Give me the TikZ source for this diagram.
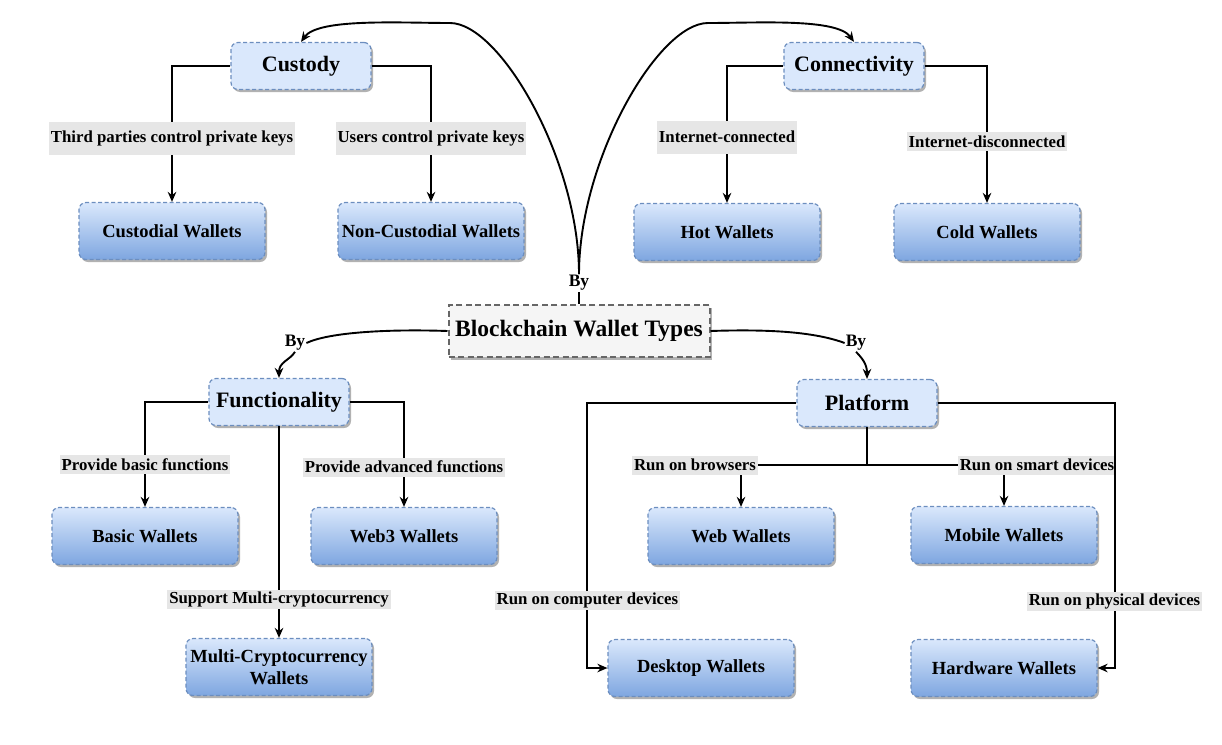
\documentclass[tikz,border=0pt]{standalone}
\usepackage{fontspec}
\setmainfont{Liberation Serif}
\usetikzlibrary{arrows.meta,shadows}
\definecolor{catfill}{HTML}{DAE8FC}
\definecolor{leafbot}{HTML}{7EA6E0}
\definecolor{bluedraw}{HTML}{6C8EBF}
\definecolor{rootfill}{HTML}{F5F5F5}
\definecolor{rootdraw}{HTML}{666666}
\definecolor{lblfill}{HTML}{E6E6E6}
\begin{document}
\begin{tikzpicture}[x=1pt,y=-1pt,
  shd/.style={drop shadow={shadow xshift=2pt,shadow yshift=-2.5pt,opacity=0.3,fill=black}},
  catbox/.style={shd,draw=bluedraw,fill=catfill,line width=1.2pt,dash pattern=on 4pt off 2.5pt,
    rounded corners=7pt,minimum width=140pt,minimum height=47pt,inner sep=2pt,
    font=\fontsize{22}{24}\selectfont\bfseries},
  leaf/.style={shd,draw=bluedraw,top color=catfill,bottom color=leafbot,line width=1.2pt,
    dash pattern=on 4pt off 2.5pt,rounded corners=7pt,minimum width=186pt,minimum height=57pt,
    inner sep=1pt,align=center,font=\fontsize{18.5}{21.5}\selectfont\bfseries},
  rootbox/.style={shd,draw=rootdraw,fill=rootfill,line width=2pt,dash pattern=on 6pt off 3.5pt,
    minimum width=261pt,minimum height=52pt,inner sep=2pt,font=\fontsize{23.5}{26}\selectfont\bfseries},
  lbl/.style={fill=lblfill,inner sep=2pt,minimum height=19pt,font=\fontsize{16.8}{18}\selectfont\bfseries},
  lbltall/.style={lbl,minimum height=33pt},
  bylbl/.style={inner sep=1pt,font=\fontsize{17.5}{19}\selectfont\bfseries},
  edge/.style={line width=1.9pt,black},
  arr/.style={edge,-{Stealth[length=10pt,width=8.5pt]}}
]
\useasboundingbox (0,0) rectangle (1222,744);

% nodes
\node[rootbox] (root) at (579,331) {Blockchain Wallet Types};
\node[catbox] (custody) at (301,66) {Custody};
\node[catbox] (conn) at (854,66) {Connectivity};
\node[catbox] (func) at (279,402) {Functionality};
\node[catbox] (plat) at (867,403) {Platform};

\node[leaf] (cw) at (172,231) {Custodial Wallets};
\node[leaf] (ncw) at (431,231) {Non-Custodial Wallets};
\node[leaf] (hot) at (727,232) {Hot Wallets};
\node[leaf] (cold) at (987,232) {Cold Wallets};
\node[leaf] (basic) at (145,536) {Basic Wallets};
\node[leaf] (web3) at (404,536) {Web3 Wallets};
\node[leaf] (multi) at (279,667) {Multi-Cryptocurrency\\Wallets};
\node[leaf] (web) at (741,536) {Web Wallets};
\node[leaf] (mobile) at (1004,535) {Mobile Wallets};
\node[leaf] (desktop) at (701,668) {Desktop Wallets};
\node[leaf] (hw) at (1004,668) {Hardware Wallets};

\node[bylbl] (byT) at (579,283) {By};
\node[bylbl] (byL) at (295,343) {By};
\node[bylbl] (byR) at (856,343) {By};

% root connectors
\draw[edge] (root.north) -- (byT.south);
\draw[arr] (byT.north) .. controls (579,160) and (500,23) .. (450,23)
  .. controls (400,23) and (318,18) .. (custody.north);
\draw[arr] (byT.north) .. controls (579,160) and (658,23) .. (708,23)
  .. controls (758,23) and (837,18) .. (conn.north);
\draw[edge] (root.west) .. controls (390,329) and (330,332) .. (byL.east);
\draw[arr] (byL.south) .. controls (290,360) and (279,362) .. (func.north);
\draw[edge] (root.east) .. controls (770,329) and (815,332) .. (byR.west);
\draw[arr] (byR.south) .. controls (862,358) and (867,364) .. (plat.north);

% custody
\draw[arr] (custody.west) -| node[lbltall,pos=0.767] {Third parties control private keys} (cw.north);
\draw[arr] (custody.east) -| node[lbltall,pos=0.767] {Users control private keys} (ncw.north);
% connectivity
\draw[arr] (conn.west) -| node[lbltall,pos=0.76] {Internet-connected} (hot.north);
\draw[arr] (conn.east) -| node[lbl,pos=0.776] {Internet-disconnected} (cold.north);
% functionality
\draw[arr] (func.west) -| node[lbl,pos=0.80] {Provide basic functions} (basic.north);
\draw[arr] (func.east) -| node[lbl,pos=0.81] {Provide advanced functions} (web3.north);
\draw[arr] (func.south) -- node[lbl,pos=0.82] {Support Multi-cryptocurrency} (multi.north);
% platform
\draw[arr] (plat.south) -- ++(0,38) -| node[lbl,pos=0.5,xshift=-46pt] {Run on browsers} (web.north);
\draw[arr] (plat.south) -- ++(0,38) -| node[lbl,pos=0.5,xshift=33pt] {Run on smart devices} (mobile.north);
\draw[arr] (plat.west) -- ++(-209,0) |- node[lbl,pos=0.372] {Run on computer devices} (desktop.west);
\draw[arr] (plat.east) -- ++(177,0) |- node[lbl,pos=0.375] {Run on physical devices} (hw.east);
\end{tikzpicture}
\end{document}
